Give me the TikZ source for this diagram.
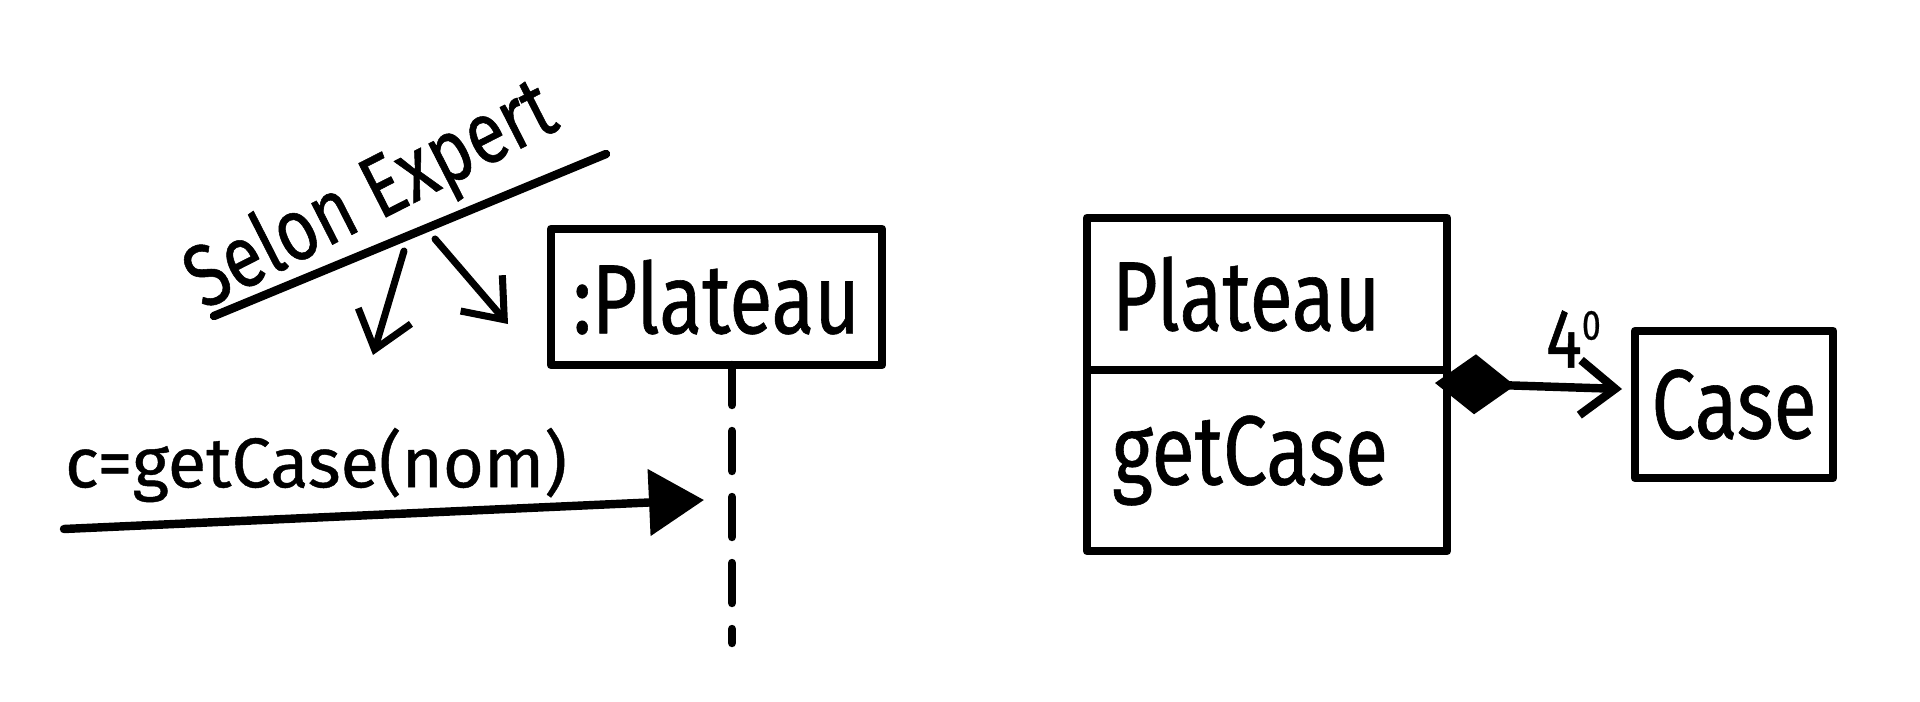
\documentclass[tikz,border=0pt]{standalone}
\usepackage{fontspec}
\setmainfont[FakeBold=0.6]{Fira Sans}
\newfontfamily\hand[FakeStretch=0.8,FakeBold=0.6]{Fira Sans}
\usetikzlibrary{arrows.meta,positioning,calc}

\begin{document}
\begin{tikzpicture}[line join=round, line cap=round,
    box/.style={draw, line width=2.5pt, inner sep=0pt, outer sep=0pt, font=\hand\fontsize{28}{30}\selectfont},
    call/.style={line width=2.4pt, -{Triangle[length=5.5mm,width=6.5mm]}},
    hint/.style={line width=2pt, -{Straight Barb[length=3.5mm,width=5.5mm]}},
    comp/.style={line width=2.4pt, {Diamond[length=8mm,width=6mm]}-{Straight Barb[length=3.5mm,width=5.5mm]}}]
    \useasboundingbox (0,0) rectangle (19.2,7.01);
    % sequence side
    \node[box, minimum width=3.31cm, minimum height=1.36cm] (obj) at (7.165,4.04) {:Plateau};
    \coordinate (lifeEnd) at (7.32,0.58);
    \draw[line width=2.4pt, dash pattern=on 4mm off 2.6mm] (obj.south -| lifeEnd) -- (lifeEnd);
    \coordinate (callStart) at (0.64,1.72);
    \coordinate (callEnd) at (7.04,2.01);
    \draw[call] (callStart) -- (callEnd);
    \node[font=\fontsize{20}{22}\selectfont] (msg) at (3.16,2.36) {c=getCase(nom)};
    % note with its two hints
    \node[rotate=27, font=\hand\fontsize{25}{27}\selectfont] (note) at (3.72,5.03) {Selon Expert};
    \coordinate (ulA) at (2.14,3.85);
    \coordinate (ulB) at (6.06,5.47);
    \draw[line width=2.4pt] (ulA) -- (ulB);
    \coordinate (hintA) at (4.04,4.50);
    \coordinate (hintAEnd) at (3.73,3.46);
    \coordinate (hintB) at (4.35,4.62);
    \draw[hint] (hintA) -- (hintAEnd);
    \draw[hint] (hintB) -- ([xshift=-4.3mm,yshift=-2.7mm]obj.west);
    % class side
    \node[box, minimum width=3.6cm, minimum height=1.52cm, text width=3.1cm, align=left] (clsName) at (12.67,4.07) {Plateau};
    \node[box, minimum width=3.6cm, minimum height=1.81cm, text width=3.1cm, align=left, below=0pt of clsName] (clsOps) {getCase};
    \node[box, minimum width=1.98cm, minimum height=1.47cm] (caseBox) at (17.34,2.965) {Case};
    \draw[comp] ([xshift=-1.2mm,yshift=-1.3mm]clsOps.north east) -- node[pos=0.74, above=1.2mm, inner sep=1pt, font=\hand\fontsize{24}{26}\selectfont] (mult) {4\raisebox{8pt}{\fontsize{12}{12}\selectfont 0}} ([xshift=-1.3mm,yshift=1.55mm]caseBox.west);
\end{tikzpicture}
\end{document}
